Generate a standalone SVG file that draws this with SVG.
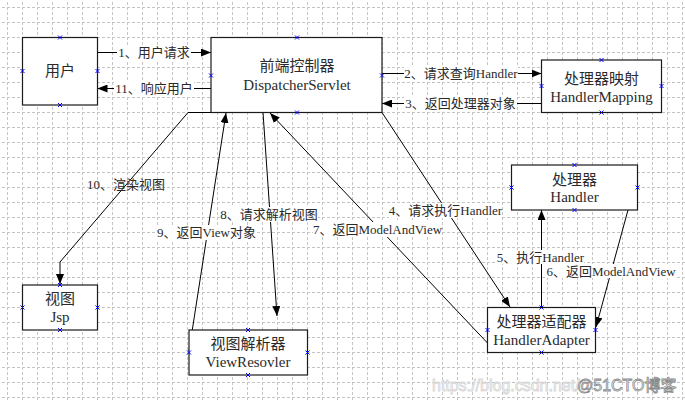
<svg xmlns="http://www.w3.org/2000/svg" xmlns:xlink="http://www.w3.org/1999/xlink" width="685" height="402" viewBox="0 0 685 402">
<style>
.box{fill:#fff;stroke:#1a1a1a;stroke-width:1.2}
.nt{font-family:"Liberation Serif","Noto Sans CJK SC",serif;font-size:15px;fill:#2a2a2a;text-anchor:middle}
.lb{font-family:"Liberation Serif","Noto Sans CJK SC",serif;font-size:13px;fill:#2a2a2a;text-anchor:middle}
.cn{fill:none;stroke:#000;stroke-width:1}
.bg{fill:#fff}
.wm{font-family:"Liberation Sans","Noto Sans CJK SC",sans-serif;font-size:16px}
</style>
<defs>
<pattern id="grid" width="15" height="15" patternUnits="userSpaceOnUse" x="7" y="7">
<path d="M0,0.5 H15" stroke="#c4c4c4" stroke-width="1" stroke-dasharray="3,2" fill="none"/>
<path d="M0.5,0 V15" stroke="#c4c4c4" stroke-width="1" stroke-dasharray="3,2" fill="none"/>
</pattern>
<marker id="ah" viewBox="0 0 10 8" refX="10" refY="4" markerWidth="10" markerHeight="8" orient="auto" markerUnits="userSpaceOnUse">
<path d="M0,0 L10,4 L0,8 z" fill="#000"/>
</marker>
<path id="bx" d="M-2,-2 L2,2 M-2,2 L2,-2" stroke="#0000ff" stroke-width="1" fill="none"/>
</defs>
<rect x="0" y="0" width="685" height="402" fill="#fff"/>
<rect x="0" y="0" width="685" height="402" fill="url(#grid)"/>

<g id="connectors">
<path class="cn" d="M97.5,52.5 H211" marker-end="url(#ah)"/>
<path class="cn" d="M211,88.5 H97.5" marker-end="url(#ah)"/>
<path class="cn" d="M382,73.5 H541.5" marker-end="url(#ah)"/>
<path class="cn" d="M541.5,103.5 H382" marker-end="url(#ah)"/>
<path class="cn" d="M382,112.5 L510,307" marker-end="url(#ah)"/>
<path class="cn" d="M541.5,307.5 V210" marker-end="url(#ah)"/>
<path class="cn" d="M628,210 L596,327" marker-end="url(#ah)"/>
<path class="cn" d="M487.5,343 L270,113" marker-end="url(#ah)"/>
<path class="cn" d="M263,112.5 L277,316" marker-end="url(#ah)"/>
<path class="cn" d="M189,351 L226,113" marker-end="url(#ah)"/>
<path class="cn" d="M211,112.5 H188 L60,262 V284" stroke-width="1.3" marker-end="url(#ah)"/>

<rect class="bg" x="117" y="45" width="74" height="15"/>
<text class="lb" x="154" y="57">1、用户请求</text>
<rect class="bg" x="114" y="81" width="80" height="15"/>
<text class="lb" x="154" y="93">11、响应用户</text>
<rect class="bg" x="404" y="66" width="114" height="15"/>
<text class="lb" x="461" y="78">2、请求查询Handler</text>
<rect class="bg" x="404" y="96" width="113" height="15"/>
<text class="lb" x="460.5" y="108">3、返回处理器对象</text>
<rect class="bg" x="389" y="203" width="113" height="15"/>
<text class="lb" x="445.5" y="214.5">4、请求执行Handler</text>
<rect class="bg" x="313" y="222" width="129" height="15"/>
<text class="lb" x="377.5" y="233.5">7、返回ModelAndView</text>
<rect class="bg" x="220" y="207" width="98" height="15"/>
<text class="lb" x="269" y="218.5">8、请求解析视图</text>
<rect class="bg" x="156" y="225" width="101" height="15"/>
<text class="lb" x="206.5" y="236.5">9、返回View对象</text>
<text class="lb" x="126" y="189">10、渲染视图</text>
<rect class="bg" x="497" y="250" width="87" height="14"/>
<text class="lb" x="540.5" y="261.5">5、执行Handler</text>
<rect class="bg" x="547" y="264" width="128" height="14"/>
<text class="lb" x="611" y="275.5">6、返回ModelAndView</text>
</g>

<g id="user">
<rect class="box" x="22.5" y="37.5" width="75" height="67.5"/>
<text class="nt" x="60" y="75.5">用户</text>
</g>
<g id="dispatcher">
<rect class="box" x="211" y="37.5" width="171" height="75"/>
<text class="nt" x="297" y="71">前端控制器</text>
<text class="nt" x="297" y="89.5">DispatcherServlet</text>
</g>
<g id="handlermapping">
<rect class="box" x="541.5" y="60" width="120" height="52.5"/>
<text class="nt" x="601.5" y="83.5">处理器映射</text>
<text class="nt" x="601.5" y="102">HandlerMapping</text>
</g>
<g id="handler">
<rect class="box" x="511.5" y="165" width="126" height="45"/>
<text class="nt" x="574.5" y="184.5">处理器</text>
<text class="nt" x="574.5" y="202">Handler</text>
</g>
<g id="handleradapter">
<rect class="box" x="487.5" y="307.5" width="108" height="45"/>
<text class="nt" x="541.5" y="327">处理器适配器</text>
<text class="nt" x="541.5" y="345">HandlerAdapter</text>
</g>
<g id="jsp">
<rect class="box" x="22.5" y="285" width="75" height="45"/>
<text class="nt" x="60" y="303.5">视图</text>
<text class="nt" x="60" y="321.5">Jsp</text>
</g>
<g id="viewresolver">
<rect class="box" x="189" y="330" width="118.5" height="45"/>
<text class="nt" x="248" y="349">视图解析器</text>
<text class="nt" x="248" y="367">ViewResovler</text>
</g>

<g id="markers">
<use xlink:href="#bx" x="60" y="37.5"/><use xlink:href="#bx" x="60" y="105"/><use xlink:href="#bx" x="22.5" y="71"/><use xlink:href="#bx" x="97.5" y="71"/>
<use xlink:href="#bx" x="297" y="37.5"/><use xlink:href="#bx" x="297" y="112.5"/><use xlink:href="#bx" x="211" y="75.5"/><use xlink:href="#bx" x="382" y="75.5"/>
<use xlink:href="#bx" x="601.5" y="60"/><use xlink:href="#bx" x="601.5" y="112.5"/><use xlink:href="#bx" x="541.5" y="86"/><use xlink:href="#bx" x="661.5" y="86"/>
<use xlink:href="#bx" x="574.5" y="165"/><use xlink:href="#bx" x="574.5" y="210"/><use xlink:href="#bx" x="511.5" y="187.5"/><use xlink:href="#bx" x="637.5" y="187.5"/>
<use xlink:href="#bx" x="541.5" y="307.5"/><use xlink:href="#bx" x="541.5" y="352.5"/><use xlink:href="#bx" x="487.5" y="330"/><use xlink:href="#bx" x="595.5" y="330"/>
<use xlink:href="#bx" x="60" y="285"/><use xlink:href="#bx" x="60" y="330"/><use xlink:href="#bx" x="22.5" y="307.5"/><use xlink:href="#bx" x="97.5" y="307.5"/>
<use xlink:href="#bx" x="248" y="330"/><use xlink:href="#bx" x="248" y="375"/><use xlink:href="#bx" x="189" y="352.5"/><use xlink:href="#bx" x="307.5" y="352.5"/>
</g>

<g id="watermark">
<text class="wm" x="432" y="391" fill="#fff" stroke="#d4d4d4" stroke-width="0.8">https://blog.csdn.net/</text>
<text class="wm" x="577" y="391" fill="#fff" stroke="#8c8c8c" stroke-width="0.8">@51CTO博客</text>
</g>
</svg>
